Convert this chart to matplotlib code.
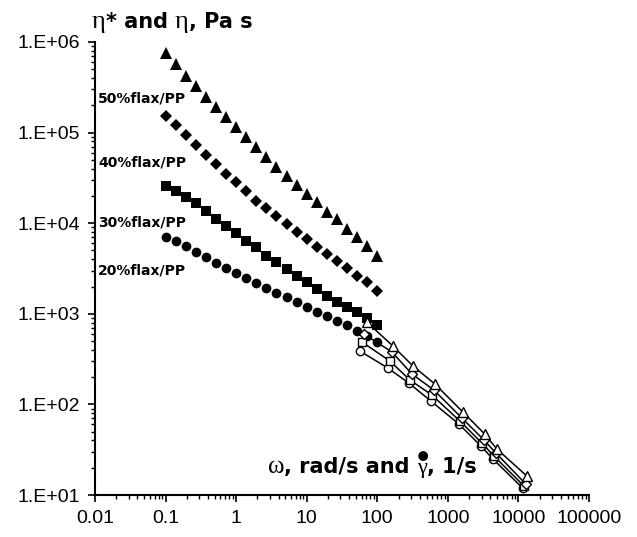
import matplotlib
matplotlib.use("Agg")
import matplotlib.pyplot as plt
from matplotlib.ticker import FixedLocator, LogLocator, NullFormatter
from matplotlib.patches import Circle
from matplotlib.transforms import IdentityTransform

# oscillatory data (eta*), rad/s
freq = [0.1, 0.139, 0.193, 0.268, 0.373, 0.518, 0.72, 1.0, 1.39, 1.93, 2.68,
        3.73, 5.18, 7.2, 10, 13.9, 19.3, 26.8, 37.3, 51.8, 72, 100]
eta50 = [758000, 575000, 417000, 324000, 245000, 191000, 148000, 115000, 89100,
         69200, 53700, 41700, 33100, 26300, 20900, 17000, 13200, 11200, 8710,
         7080, 5620, 4370]
eta40 = [152000, 121000, 94200, 72900, 56600, 45000, 34900, 28500, 22600, 17600,
         14700, 12000, 9790, 8000, 6700, 5470, 4570, 3830, 3210, 2610, 2240, 1790]
eta30 = [25800, 22600, 19500, 16700, 13600, 11100, 9310, 7800, 6370, 5460, 4350,
         3730, 3120, 2610, 2240, 1880, 1570, 1350, 1190, 1050, 899, 752]
eta20 = [7050, 6370, 5600, 4810, 4240, 3640, 3210, 2820, 2480, 2190, 1930, 1700,
         1530, 1350, 1190, 1050, 946, 834, 752, 646, 569, 489]

# capillary data (eta vs shear rate)
cap50_x = [71, 166, 319, 654, 1630, 3340, 4940, 13150]
cap50_y = [811, 442, 266, 168, 82.5, 47, 32.2, 16.2]
cap40_x = [64.6, 161, 309, 634, 1580, 3240, 4790, 12740]
cap40_y = [598, 379, 217, 144, 70.8, 40.5, 29.1, 13.2]
cap30_x = [60.6, 151, 290, 593, 1480, 3030, 4490, 11950]
cap30_y = [489, 301, 186, 127, 65.6, 37.5, 26.9, 12.6]
cap20_x = [56.8, 141, 280, 574, 1430, 2930, 4340, 11530]
cap20_y = [388, 252, 172, 109, 60.8, 34.8, 25, 11.9]

labels = ["50%flax/PP", "40%flax/PP", "30%flax/PP", "20%flax/PP"]
xticks = [0.01, 0.1, 1, 10, 100, 1000, 10000, 100000]
xticklabels = ["0.01", "0.1", "1", "10", "100", "1000", "10000", "100000"]
yticks = [1e1, 1e2, 1e3, 1e4, 1e5, 1e6]
yticklabels = ["1.E+01", "1.E+02", "1.E+03", "1.E+04", "1.E+05", "1.E+06"]

W, H = 637, 537
fig = plt.figure(figsize=(W / 100, H / 100), dpi=100)
ax = fig.add_axes([95 / W, 1 - 495 / H, (589 - 95) / W, (495 - 42) / H])
ax.set_xscale("log")
ax.set_yscale("log")
ax.set_xlim(0.01, 100000)
ax.set_ylim(10, 1e6)

ax.plot(freq, eta50, "^", color="black", ms=8, mew=0, ls="none")
ax.plot(freq, eta40, "D", color="black", ms=6, mew=0, ls="none")
ax.plot(freq, eta30, "s", color="black", ms=7, mew=0, ls="none")
ax.plot(freq, eta20, "o", color="black", ms=7, mew=0, ls="none")

for xs, ys, m, s in [(cap20_x, cap20_y, "o", 6), (cap30_x, cap30_y, "s", 6),
                     (cap40_x, cap40_y, "D", 5), (cap50_x, cap50_y, "^", 7)]:
    ax.plot(xs, ys, "-", marker=m, color="black", mfc="white", ms=s, mew=1.0, lw=1.1)

for side in ["top", "right"]:
    ax.spines[side].set_visible(False)
for side in ["left", "bottom"]:
    ax.spines[side].set_linewidth(1.5)

ax.xaxis.set_major_locator(FixedLocator(xticks))
ax.set_xticklabels(xticklabels)
ax.yaxis.set_major_locator(FixedLocator(yticks))
ax.set_yticklabels(yticklabels)
ax.xaxis.set_minor_locator(LogLocator(base=10, subs=range(2, 10), numticks=20))
ax.yaxis.set_minor_locator(LogLocator(base=10, subs=range(2, 10), numticks=20))
ax.xaxis.set_minor_formatter(NullFormatter())
ax.yaxis.set_minor_formatter(NullFormatter())
ax.tick_params(which="major", direction="out", length=5, width=1.2, pad=6,
               labelsize=14, colors="black")
ax.tick_params(which="minor", direction="out", length=3, width=1.0)
for t in ax.get_xticklabels() + ax.get_yticklabels():
    t.set_fontfamily("Liberation Sans")

# series labels
lab_y = [98, 163, 222, 270]
for lab, yy in zip(labels, lab_y):
    fig.text(98 / W, 1 - yy / H, lab, fontsize=10, fontweight="bold",
             family="DejaVu Sans", ha="left", va="center")

renderer = fig.canvas.get_renderer()


def rich_text(x_px, base_px, pieces):
    # draws text pieces side by side, returns x start and width of each piece
    starts = []
    for s, fam, size, weight in pieces:
        t = fig.text(x_px / W, 1 - base_px / H, s, family=fam, fontsize=size,
                     fontweight=weight, ha="left", va="baseline")
        w = t.get_window_extent(renderer).width
        starts.append((x_px, w))
        x_px += w
    return starts


rich_text(92, 28, [("η", "Liberation Serif", 19, "normal"),
                   ("* and ", "DejaVu Sans", 15, "bold"),
                   ("η", "Liberation Serif", 19, "normal"),
                   (", Pa s", "DejaVu Sans", 15, "bold")])

pos = rich_text(268, 473, [("ω", "Liberation Serif", 18, "normal"),
                           (", rad/s and ", "DejaVu Sans", 15, "bold"),
                           ("γ", "Liberation Serif", 16, "normal"),
                           (", 1/s", "DejaVu Sans", 15, "bold")])
gx, gw = pos[2]
fig.add_artist(Circle((gx + gw / 2 + 1, H - 456), 4.2, color="black",
                      transform=IdentityTransform()))

fig.savefig("out.png", dpi=100)
